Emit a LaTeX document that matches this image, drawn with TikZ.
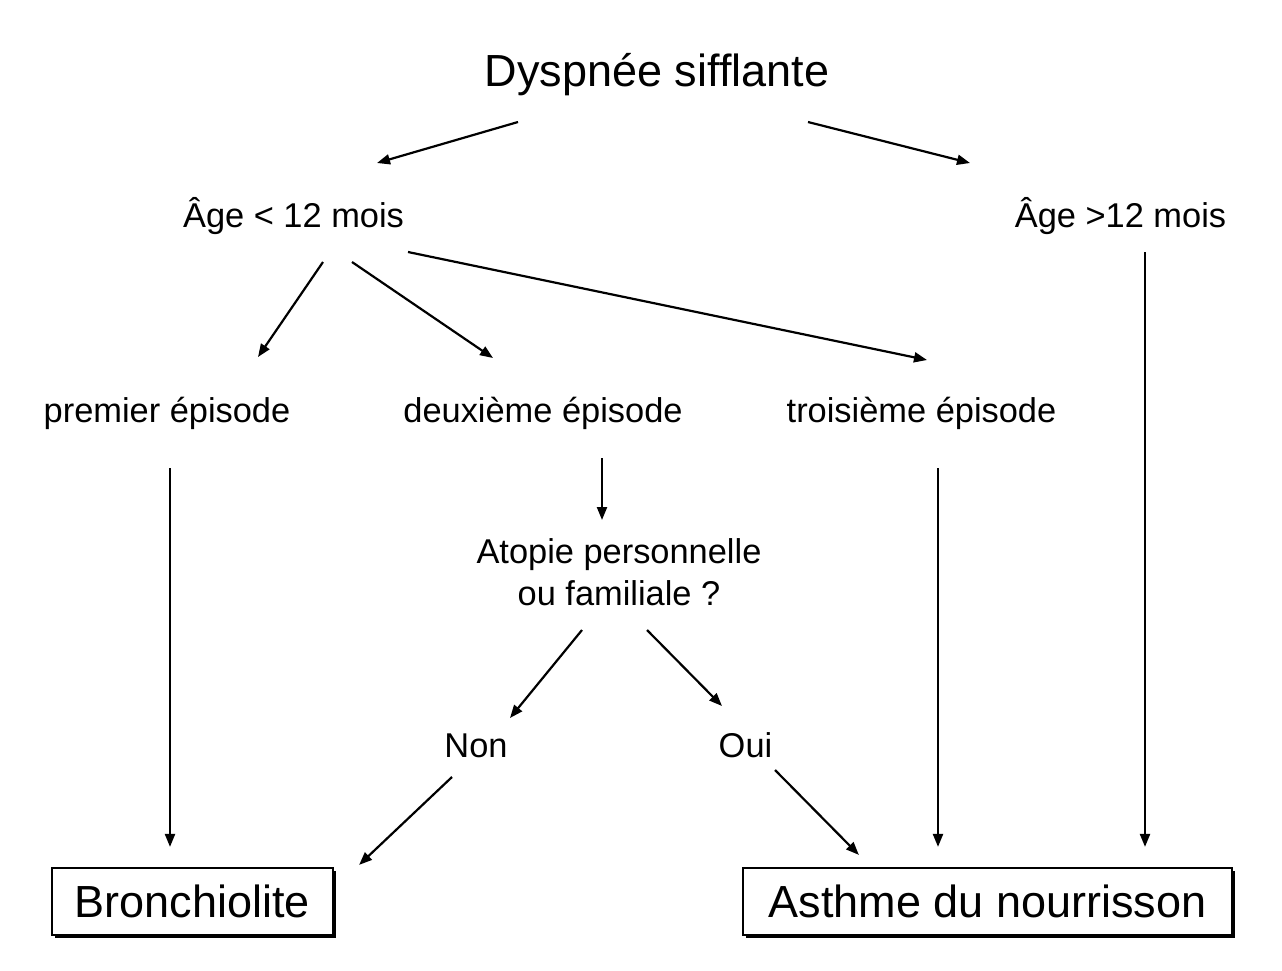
\documentclass[tikz,border=0pt]{standalone}
\usepackage{fontspec}
\setmainfont{Liberation Sans}
\usetikzlibrary{calc,arrows.meta,shadows}
\begin{document}
\begin{tikzpicture}[x=1pt,y=-1pt,
  big/.style={font=\fontsize{45}{54}\selectfont},
  mid/.style={font=\fontsize{34.4}{42}\selectfont},
  lbl/.style={mid,inner sep=0pt,anchor=base},
  result/.style={big,draw,line width=2.2pt,fill=white,inner sep=0pt,
    drop shadow={shadow xshift=2.5pt,shadow yshift=-2.5pt,opacity=1,fill=black}},
  arr/.style={line width=2.2pt,-{Triangle[length=13pt,width=10pt]}}]
\useasboundingbox (0,0) rectangle (1282,970);
\node[big,inner sep=0pt,anchor=base] (dys) at (657,86) {Dyspnée sifflante};
\node[lbl] (age1) at (293.5,227) {Âge < 12 mois};
\node[lbl] (age2) at (1120.5,227) {Âge >12 mois};
\node[lbl] (prem) at (167,422) {premier épisode};
\node[lbl] (deux) at (543,422) {deuxième épisode};
\node[lbl] (trois) at (921.5,422) {troisième épisode};
\node[mid,inner sep=0pt,anchor=north,align=center] (atop) at (619,538) {Atopie personnelle\\ou familiale ?};
\node[lbl] (non) at (476,757) {Non};
\node[lbl] (oui) at (745.5,757) {Oui};
\node[result,minimum width=281pt,minimum height=67pt] (bron) at (192.5,901.5) {Bronchiolite};
\node[result,minimum width=489pt,minimum height=67pt] (asth) at (987.5,901.5) {Asthme du nourrisson};
\draw[arr] ($(dys.base)+(-139,36)$) -- ($(age1.base)+(83.5,-64)$);
\draw[arr] ($(dys.base)+(151,36)$) -- ($(age2.base)+(-150.5,-64)$);
\draw[arr] ($(age1.base)+(29.5,35)$) -- ($(prem.base)+(91,-65)$);
\draw[arr] ($(age1.base)+(58.5,35)$) -- ($(deux.base)+(-50,-64)$);
\draw[arr] ($(age1.base)+(114.5,25)$) -- ($(trois.base)+(5.5,-62)$);
\draw[arr] ($(age2.base)+(24.5,25)$) -- ($(asth.north)+(157.5,-20)$);
\draw[arr] ($(prem.base)+(3,46)$) -- ($(bron.north)+(-22.5,-20)$);
\draw[arr] ($(deux.base)+(59,36)$) -- ($(atop.north)+(-17,-18)$);
\draw[arr] ($(trois.base)+(16.5,46)$) -- ($(asth.north)+(-49.5,-20)$);
\draw[arr] ($(atop.north)+(-37,92)$) -- ($(non.base)+(34,-39)$);
\draw[arr] ($(atop.north)+(28,92)$) -- ($(oui.base)+(-23.5,-51)$);
\draw[arr] ($(non.base)+(-24,20)$) -- ($(bron.north east)+(25,-2)$);
\draw[arr] ($(oui.base)+(29.5,13)$) -- ($(asth.north west)+(117,-12)$);
\end{tikzpicture}
\end{document}
